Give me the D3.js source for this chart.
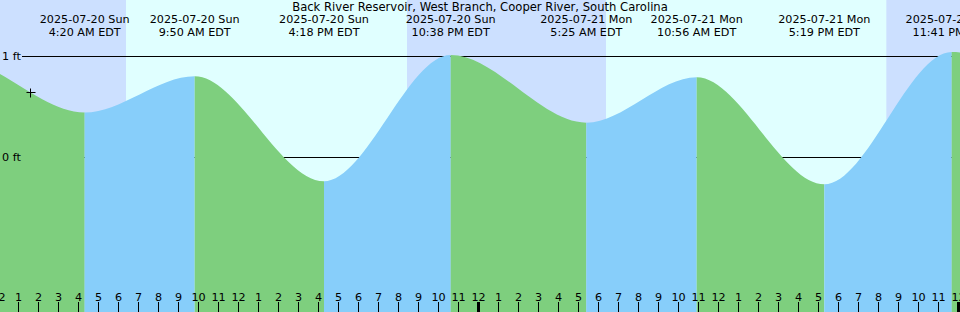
<!DOCTYPE html>
<html lang="en">

<head>
  <meta charset="UTF-8" />
  <title>Back River Reservoir tides</title>
  <script src="https://d3js.org/d3.v7.js"></script>
  <style>
    body { margin: 0; background: #fff; }
    svg { display: block; }
    text { font-family: "DejaVu Sans", sans-serif; font-size: 11.2px; fill: #000; }
  </style>
</head>

<body>
  <div id="graph-space"></div>
</body>
<script>
  // Data (local EDT clock times)
  const title = "Back River Reservoir, West Branch, Cooper River, South Carolina"
  // high / low tide extremes, the first two and the last are outside the window
  const tideTimes = ["2025-07-19T15:40", "2025-07-19T21:50", "2025-07-20T04:20", "2025-07-20T09:50",
    "2025-07-20T16:18", "2025-07-20T22:38", "2025-07-21T05:25", "2025-07-21T10:56",
    "2025-07-21T17:19", "2025-07-21T23:41", "2025-07-22T06:10"]
  const tideHeights = [-0.2, 0.97, 0.44, 0.80, -0.24, 1.01, 0.34, 0.79, -0.27, 1.04, 0.30]
  const sunriseTimes = ["2025-07-20T06:24", "2025-07-21T06:24"]
  const sunsetTimes = ["2025-07-20T20:27", "2025-07-21T20:25"]
  const levelTicks = [0, 1]
  const nowTime = "2025-07-20T01:36"
  const nowHeight = 0.645

  const width = 960
  const height = 312
  const parse = d3.utcParse("%Y-%m-%dT%H:%M")
  const fmtDay = d3.utcFormat("%Y-%m-%d %a")
  const fmtTime = d3.utcFormat("%-I:%M %p EDT")

  const tides = tideTimes.map((t, i) => ({ time: parse(t), h: tideHeights[i] }))

  const start = parse("2025-07-20T00:06")
  const end = parse("2025-07-22T00:06")
  const xScale = d3.scaleUtc().domain([start, end]).range([0, width])
  const yScale = d3.scaleLinear().domain([0, 1]).range([157, 56])

  const svg = d3.select("#graph-space")
    .append("svg")
    .attr("width", width)
    .attr("height", height)

  // night / day background
  svg.append("rect")
    .attr("width", width).attr("height", height)
    .attr("fill", "#cce0ff")
  sunriseTimes.forEach((s, i) => {
    svg.append("rect")
      .attr("x", xScale(parse(s)))
      .attr("width", xScale(parse(sunsetTimes[i])) - xScale(parse(s)))
      .attr("height", height)
      .attr("fill", "#e0ffff")
  })

  // datum lines, they sit under the water
  svg.selectAll(".level")
    .data(levelTicks)
    .join("line")
    .attr("x1", 22).attr("x2", width)
    .attr("y1", d => yScale(d) + 0.5).attr("y2", d => yScale(d) + 0.5)
    .attr("stroke", "#000")

  // water area, coloured by rising / falling
  const area = d3.area()
    .x(d => xScale(d.time))
    .y0(height)
    .y1(d => yScale(d.h))
    .curve(d3.curveMonotoneX)
  svg.append("clipPath").attr("id", "water")
    .append("path").attr("d", area(tides))

  const segments = d3.pairs(tides)
  svg.append("g")
    .attr("clip-path", "url(#water)")
    .selectAll("rect")
    .data(segments)
    .join("rect")
    .attr("x", d => xScale(d[0].time))
    .attr("width", d => xScale(d[1].time) - xScale(d[0].time))
    .attr("y", 0)
    .attr("height", height)
    .attr("fill", d => d[1].h > d[0].h ? "#87cefa" : "#7ecf7e")

  // level labels go on top of the water
  svg.selectAll(".levelLabel")
    .data(levelTicks)
    .join("text")
    .attr("x", 2)
    .attr("y", d => yScale(d) + 4)
    .text(d => d + " ft")

  // title and event labels
  svg.append("text")
    .attr("x", width / 2).attr("y", 11)
    .attr("text-anchor", "middle")
    .style("font-size", "11.6px")
    .text(title)

  const visible = tides.filter(d => d.time >= start && d.time <= end)
  const labels = svg.selectAll(".event")
    .data(visible)
    .join("g")
    .attr("transform", d => `translate(${xScale(d.time)},0)`)
  labels.append("text").attr("y", 23).attr("text-anchor", "middle").text(d => fmtDay(d.time))
  labels.append("text").attr("y", 35.5).attr("text-anchor", "middle").text(d => fmtTime(d.time))

  // current time marker
  const nx = Math.round(xScale(parse(nowTime))) + 0.5
  const ny = Math.round(yScale(nowHeight)) + 0.5
  svg.append("path")
    .attr("d", `M${nx - 4},${ny}H${nx + 5}M${nx},${ny - 4}V${ny + 5}`)
    .attr("stroke", "#000")

  // hour axis along the bottom
  const hours = d3.utcHour.range(d3.utcHour.floor(start), end)
  svg.selectAll(".tick")
    .data(hours)
    .join("rect")
    .attr("x", d => Math.round(xScale(d)) - (d.getUTCHours() === 0 ? 1 : 0))
    .attr("width", d => d.getUTCHours() === 0 ? 3 : 1)
    .attr("y", 302)
    .attr("height", 10)
    .attr("fill", "#000")
  svg.selectAll(".tickLabel")
    .data(hours)
    .join("text")
    .attr("x", d => xScale(d) + 0.5)
    .attr("y", 301)
    .attr("text-anchor", "middle")
    .text(d => d3.utcFormat("%-I")(d))
</script>

</html>
